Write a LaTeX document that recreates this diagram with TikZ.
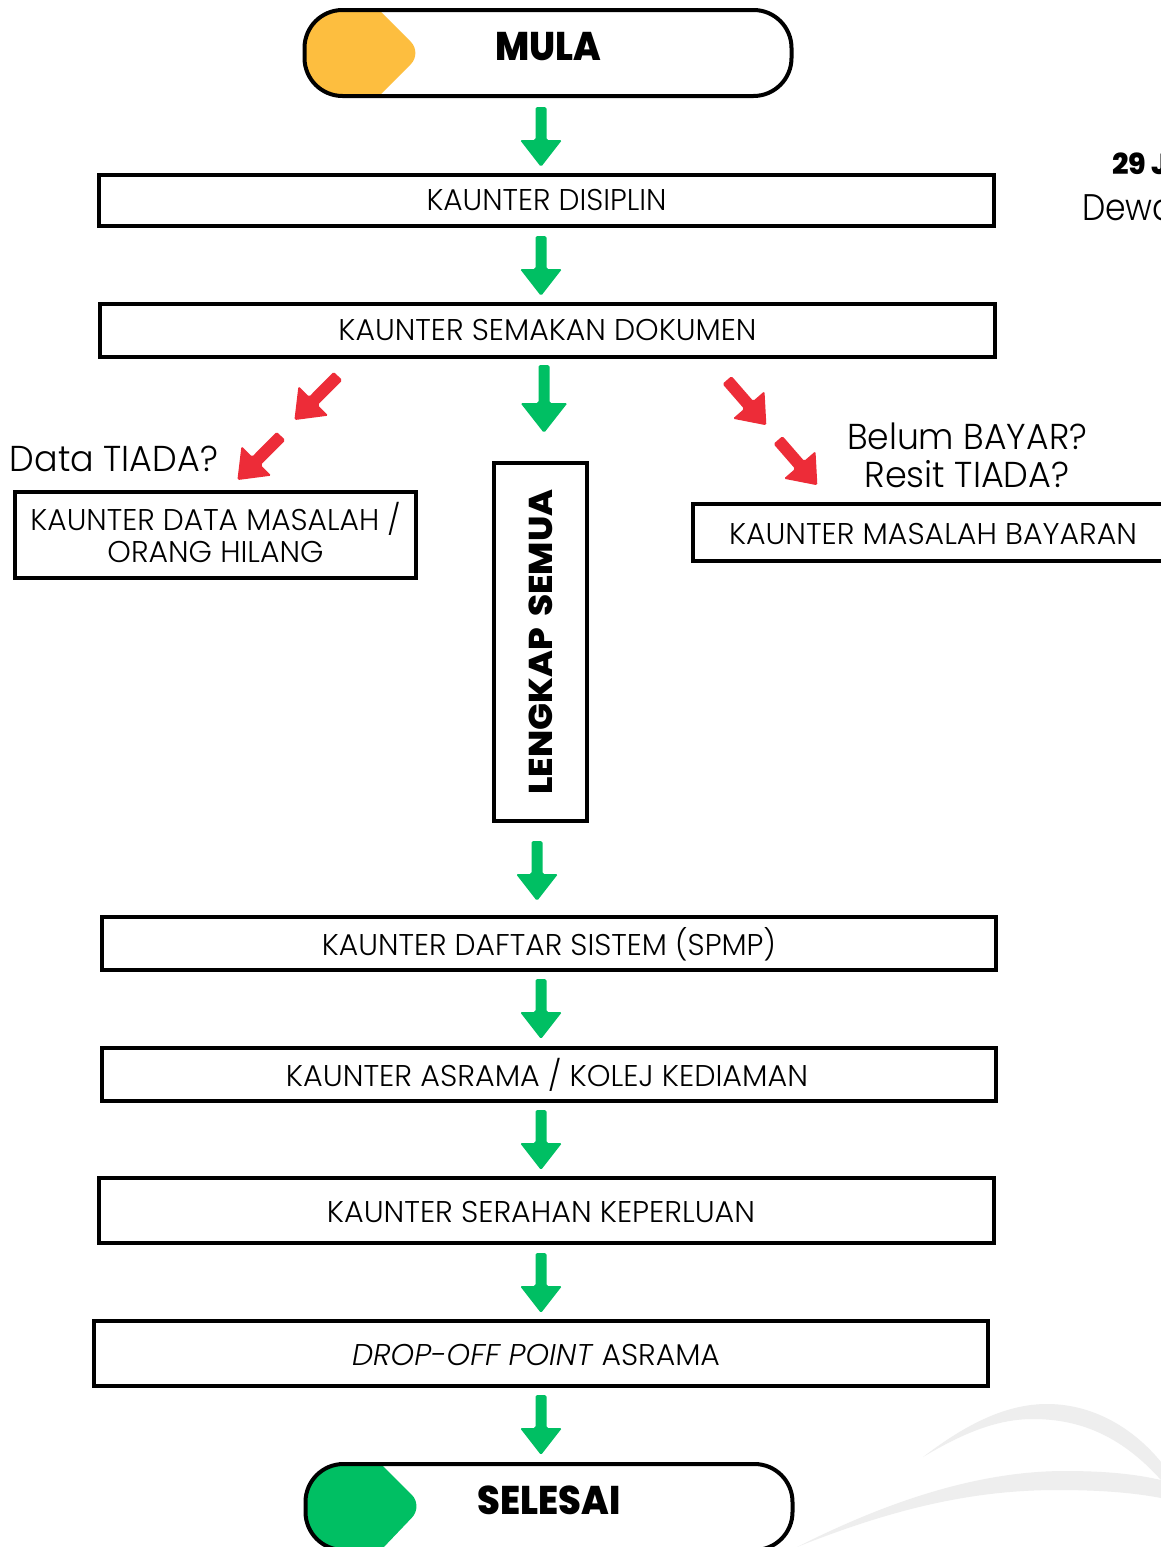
\documentclass[tikz,border=0pt]{standalone}
\usepackage{graphicx}
\usepackage{fontspec}
\setmainfont{Poppins Light}[ItalicFont={Poppins Light Italic}]
\newfontfamily\heavyf{Poppins ExtraBold}
\definecolor{gr}{HTML}{00BF63}
\definecolor{rd}{HTML}{ED2C38}
\definecolor{yl}{HTML}{FDBE3F}
\definecolor{wm}{HTML}{EEEEEE}
% text stretched to an exact width, height kept
\newcommand\tw[2]{\resizebox{#1pt}{\height}{#2}}
\newcommand\lt[2]{\fontsize{30}{32}\selectfont\tw{#1}{#2}}
\newcommand\qn[2]{\fontsize{36}{38}\selectfont\tw{#1}{#2}}
% \blockarrow{colour}{tail coordinate}{rotation}{length}{head length}{head width}{shaft half width}
\newcommand\blockarrow[7]{%
  \begin{scope}[shift={(#2)},rotate=#3]
    \fill[#1,rounded corners=1.6pt] (-#7,0) -- (#7,0) -- (#7,#4-#5) -- (#6/2,#4-#5)
      -- (0,#4) -- (-#6/2,#4-#5) -- (-#7,#4-#5) -- cycle;
  \end{scope}}
\tikzset{
  stepbox/.style={draw=black,line width=4pt,inner sep=0pt,outer sep=0pt,align=center,text=black},
  pill/.style={draw=black,line width=4pt,rounded corners=38pt,inner sep=0pt,outer sep=0pt,
    minimum width=487pt,minimum height=86pt,text=black},
  plain/.style={inner sep=0pt,outer sep=0pt,text=black,anchor=base},
}
\begin{document}
\begin{tikzpicture}[x=1pt,y=-1pt]
\useasboundingbox (0,0) rectangle (1161,1547);
\clip (0,0) rectangle (1161,1547);
\fill[white] (0,0) rectangle (1161,1547);
% watermark
\fill[wm] (923,1457) .. controls (965,1425) and (1005,1404) .. (1047,1404)
  .. controls (1095,1404) and (1135,1430) .. (1161,1462) -- (1161,1480)
  .. controls (1125,1440) and (1085,1419) .. (1033,1419)
  .. controls (995,1419) and (960,1435) .. (923,1457) -- cycle;
\fill[wm] (797,1547) .. controls (890,1500) and (980,1471) .. (1065,1471)
  .. controls (1105,1471) and (1135,1474) .. (1161,1480) -- (1161,1498)
  .. controls (1130,1492) and (1095,1490) .. (1057,1490)
  .. controls (970,1490) and (890,1510) .. (797,1547) -- cycle;
% pills' coloured ends
\begin{scope}
  \clip[rounded corners=38pt] (304.5,10) rectangle (791.5,96);
  \fill[yl] (295,0) -- (369,0) -- (380,11) [rounded corners=16pt] -- (422,53) [sharp corners] -- (380,95) -- (369,106) -- (295,106) -- cycle;
\end{scope}
\begin{scope}
  \clip[rounded corners=38pt] (306,1464) rectangle (792,1550);
  \fill[gr] (295,1450) -- (367,1450) -- (382,1465) [rounded corners=16pt] -- (423,1506) [sharp corners] -- (382,1549) -- (370,1561) -- (295,1561) -- cycle;
\end{scope}
% nodes
\node[pill] (mula) at (548,53) {\raisebox{14pt}{\heavyf\fontsize{40}{40}\selectfont\tw{106}{MULA}}};
\node[stepbox,minimum width=895pt,minimum height=51pt] (disiplin) at (546.5,200.5) {\raisebox{2pt}{\lt{240}{KAUNTER DISIPLIN}}};
\node[stepbox,minimum width=895pt,minimum height=53pt] (semakan) at (547.5,330.5) {\raisebox{2pt}{\lt{418}{KAUNTER SEMAKAN DOKUMEN}}};
\node[stepbox,minimum width=401pt,minimum height=86pt] (masalah) at (215.5,535) {\fontsize{30}{32}\selectfont\tw{370}{KAUNTER DATA MASALAH /}\\[5pt]\fontsize{30}{32}\selectfont\tw{216}{ORANG HILANG}\rule[-5pt]{0pt}{5pt}};
\node[stepbox,minimum width=93pt,minimum height=358pt] (lengkap) at (540.5,642) {\rotatebox{90}{\heavyf\fontsize{33}{33}\selectfont\tw{305}{LENGKAP\hspace{4pt} SEMUA}}};
\node[stepbox,minimum width=475pt,minimum height=57pt] (bayaran) at (930.5,532.5) {\hspace*{5pt}\rule{0pt}{25pt}\lt{408}{KAUNTER MASALAH BAYARAN}};
\node[stepbox,minimum width=894pt,minimum height=53pt] (daftar) at (549,943.5) {\rule{0pt}{29pt}\lt{454}{KAUNTER DAFTAR SISTEM (SPMP)}};
\node[stepbox,minimum width=894pt,minimum height=53pt] (asrama) at (549,1074.5) {\rule{0pt}{27pt}\lt{522}{KAUNTER ASRAMA / KOLEJ KEDIAMAN}\hspace*{4pt}};
\node[stepbox,minimum width=895pt,minimum height=65pt] (serahan) at (546.5,1210.5) {\rule{0pt}{25pt}\lt{428}{KAUNTER SERAHAN KEPERLUAN}\hspace*{11pt}};
\node[stepbox,minimum width=894pt,minimum height=65pt] (dropoff) at (541,1353.5) {\rule{0pt}{25pt}\lt{368}{\textit{DROP-OFF POINT} ASRAMA}\hspace*{10pt}};
\node[pill] (selesai) at (549,1507) {\raisebox{14pt}{\heavyf\fontsize{40}{40}\selectfont\tw{143}{SELESAI}}};
% free texts
\node[plain] (qdata) at (114,471) {\qn{208}{Data TIADA?}};
\node[plain] (qbelum) at (967,449) {\qn{240}{Belum BAYAR?}};
\node[plain] (qresit) at (967,487) {\qn{205}{Resit TIADA?}};
\node[plain,anchor=base west] (tarikh) at (1112,174) {\heavyf\fontsize{29}{29}\selectfont 29 J};
\node[plain,anchor=base west] (dewan) at (1082,220) {\fontsize{37}{38}\selectfont\tw{93}{Dewa}};
% arrows
\coordinate (g1) at (541,107);
\coordinate (g2) at (541,236);
\coordinate (g3) at (544,365);
\coordinate (g4) at (537,841);
\coordinate (g5) at (541,979);
\coordinate (g6) at (541,1110);
\coordinate (g7) at (541,1253);
\coordinate (g8) at (541,1395);
\blockarrow{gr}{g1}{0}{60}{27}{42}{5.5}
\blockarrow{gr}{g2}{0}{60}{27}{42}{5.5}
\blockarrow{gr}{g3}{0}{68}{30}{47}{5.5}
\blockarrow{gr}{g4}{0}{60}{27}{42}{5.5}
\blockarrow{gr}{g5}{0}{60}{27}{42}{5.5}
\blockarrow{gr}{g6}{0}{60}{27}{42}{5.5}
\blockarrow{gr}{g7}{0}{60}{27}{42}{5.5}
\blockarrow{gr}{g8}{0}{60}{27}{42}{5.5}
\coordinate (r1) at (338,376);
\coordinate (r2) at (281,436);
\coordinate (r3) at (727,380);
\coordinate (r4) at (778,440);
\blockarrow{rd}{r1}{-44.7}{62}{27}{42}{6}
\blockarrow{rd}{r2}{-44.7}{62}{27}{42}{6}
\blockarrow{rd}{r3}{41}{60}{27}{42}{6}
\blockarrow{rd}{r4}{41}{60}{27}{42}{6}
\end{tikzpicture}
\end{document}
